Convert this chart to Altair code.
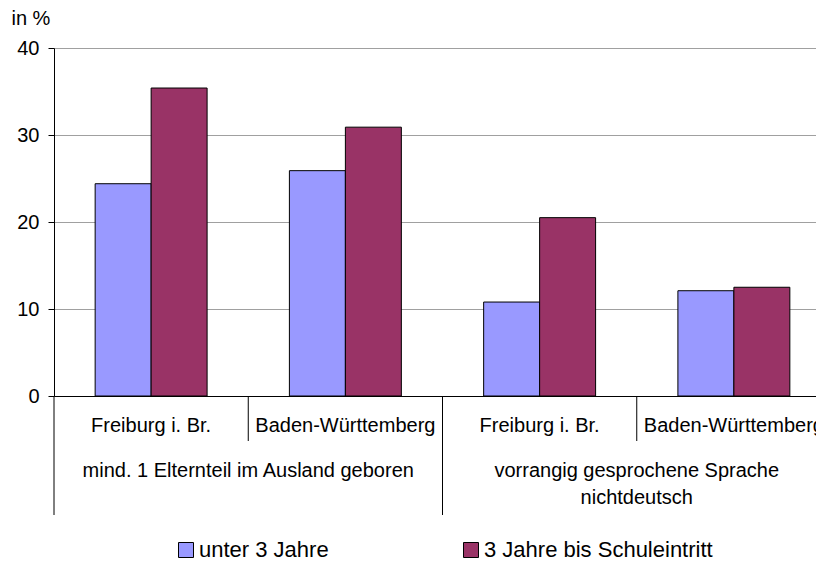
import altair as alt
import pandas as pd

# ---- data ----
groups = ["mind. 1 Elternteil im Ausland geboren", "vorrangig gesprochene Sprache\nnichtdeutsch"]
regions = ["Freiburg i. Br.", "Baden-Württemberg"]
series = ["unter 3 Jahre", "3 Jahre bis Schuleintritt"]
under3 = [24.4, 25.9, 10.8, 12.1]
school = [35.4, 30.9, 20.5, 12.5]
y_ticks = [0, 10, 20, 30, 40]
colors = ["#9999FF", "#993366"]

FONT = "Liberation Sans"

keys = []
cat_rows = []
for gi, g in enumerate(groups):
    for ri, r in enumerate(regions):
        k = f"{gi}|{r}"
        keys.append(k)
        cat_rows.append({"key": k, "region": r, "group": g, "pos": ri})
cats = pd.DataFrame(cat_rows)

bar_rows = []
for i, k in enumerate(keys):
    bar_rows.append({"key": k, "series": series[0], "value": under3[i]})
    bar_rows.append({"key": k, "series": series[1], "value": school[i]})
bars_df = pd.DataFrame(bar_rows)

xscale = alt.Scale(domain=keys, paddingInner=0, paddingOuter=0, range=[0, 777])

bars = alt.Chart(bars_df).mark_bar(stroke="black", strokeWidth=1).encode(
    x=alt.X("key:N", sort=keys, scale=xscale, title=None,
            axis=alt.Axis(labels=False, ticks=False, grid=False, domain=True,
                          domainColor="black", domainWidth=1)),
    xOffset=alt.XOffset("series:N", sort=series,
                        scale=alt.Scale(domain=series, paddingInner=0, paddingOuter=0.735)),
    y=alt.Y("value:Q", scale=alt.Scale(domain=[0, 40], nice=False),
            axis=alt.Axis(values=y_ticks, title="in %", titleAngle=0, titleX=-43, titleY=-30,
                          titleAlign="left", titleBaseline="middle", titleFontSize=20,
                          titleFontWeight="normal", titleColor="black", titleFont=FONT,
                          labelFontSize=20, labelColor="black", labelFont=FONT, labelPadding=9,
                          tickSize=6, tickColor="black", domainColor="black",
                          grid=True, gridColor="#a0a0a0", gridWidth=1)),
    color=alt.Color("series:N", sort=series,
                    scale=alt.Scale(domain=series, range=colors),
                    legend=alt.Legend(orient="none", legendX=121, legendY=491,
                                      direction="horizontal", title=None,
                                      symbolType="square", symbolSize=225,
                                      symbolStrokeColor="black", symbolStrokeWidth=1,
                                      labelFontSize=22, labelColor="black", labelFont=FONT,
                                      labelOffset=2, columnPadding=131, labelLimit=400)),
)

cat_base = alt.Chart(cats)

region_text = cat_base.mark_text(fontSize=20, font=FONT, baseline="middle", align="center",
                                 color="black").encode(
    x=alt.X("key:N", sort=keys, scale=xscale, title=None),
    y=alt.value(378),
    text="region:N",
)

group_text = cat_base.transform_filter("datum.pos == 1").mark_text(
    fontSize=20, font=FONT, baseline="top", align="center", color="black",
    lineBreak="\n", lineHeight=26.5).encode(
    x=alt.X("key:N", sort=keys, scale=xscale, title=None, bandPosition=0),
    y=alt.value(413),
    text="group:N",
)

long_rules = cat_base.transform_filter("datum.pos == 0").mark_rule(
    color="black", strokeWidth=1).encode(
    x=alt.X("key:N", sort=keys, scale=xscale, title=None, bandPosition=0),
    y=alt.value(348),
    y2=alt.value(467),
)

short_rules = cat_base.transform_filter("datum.pos == 1").mark_rule(
    color="black", strokeWidth=1).encode(
    x=alt.X("key:N", sort=keys, scale=xscale, title=None, bandPosition=0),
    y=alt.value(348),
    y2=alt.value(393),
)

chart = alt.layer(bars, long_rules, short_rules, region_text, group_text).properties(
    width=762, height=348,
    autosize=alt.AutoSizeParams(type="none"),
    padding={"left": 46, "top": 40, "right": 0, "bottom": 166},
).configure_view(stroke=None).configure(font=FONT)

chart.save("out.html", embed_options={"renderer": "svg", "actions": False})
